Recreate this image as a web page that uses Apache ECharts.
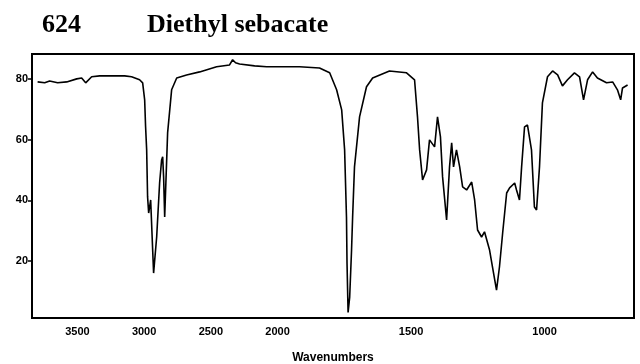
<!DOCTYPE html>
<html>
<head>
<meta charset="utf-8">
<script src="https://cdn.jsdelivr.net/npm/echarts@6/dist/echarts.min.js"></script>
<style>
html,body{margin:0;padding:0;background:#fff;}
#c{width:640px;height:364px;}
</style>
</head>
<body>
<div id="c"></div>
<script>
// Wavenumbers (cm-1) and % transmittance
const wavenumbers = [3798,3745,3708,3648,3580,3505,3468,3438,3393,3333,3221,3146,3094,3034,3011,2996,2989,2981,2974,2966,2951,2936,2929,2906,2884,2869,2861,2854,2846,2824,2794,2756,2682,2584,2457,2360,2337,2315,2285,2172,2082,1918,1843,1805,1779,1760,1749,1742,1740,1736,1730,1723,1719,1712,1693,1667,1644,1581,1517,1487,1476,1468,1457,1442,1431,1412,1401,1390,1382,1367,1356,1348,1341,1330,1318,1307,1292,1273,1262,1251,1236,1225,1206,1195,1180,1169,1157,1142,1131,1112,1105,1094,1086,1075,1064,1049,1038,1030,1019,1008,989,970,951,933,914,888,869,854,839,820,802,768,745,727,715,708,689];
const transmittance = [79.0,78.7,79.3,78.7,79.0,80.0,80.3,78.7,80.7,81.0,81.0,81.0,80.7,79.7,78.7,73.1,64.2,56.6,41.1,35.8,40.1,23.6,16.0,27.9,45.7,53.3,54.3,47.7,34.5,62.2,76.4,80.3,81.3,82.3,84.0,84.6,86.3,85.3,84.9,84.3,84.0,84.0,83.6,82.0,76.4,69.8,56.6,34.5,19.3,3.0,8.1,23.6,34.5,51.0,67.5,77.4,80.3,82.6,82.0,79.7,67.5,56.6,46.7,50.0,59.9,57.6,67.5,60.9,47.7,33.5,51.0,58.9,51.0,56.6,51.0,44.4,43.4,46.0,40.1,30.2,27.9,29.6,23.6,18.0,10.4,18.0,29.2,42.4,44.1,45.7,43.4,40.1,51.0,64.2,64.8,56.6,37.8,36.8,51.0,72.1,80.7,82.6,81.3,77.7,79.7,82.0,80.7,73.1,79.7,82.3,80.3,78.7,79.0,76.4,73.1,77.0,78.0];
const xTickLabels = [3500,3000,2500,2000,1500,1000];
const yTickLabels = [20,40,60,80];
const WN_MAX = 3840, WN_MIN = 665;
const Y_MIN = 1.2, Y_MAX = 88.2;

// chart scale is halved above 2000 cm-1
function toU(wn){ return wn > 2000 ? 2000 + (wn - 2000) / 2 : wn; }
function fromU(u){ return u > 2000 ? 2000 + 2 * (u - 2000) : u; }

const chart = echarts.init(document.getElementById('c'), null, {renderer:'canvas'});
const lblFont = {color:'#000', fontFamily:'Liberation Sans, Arial, sans-serif', fontWeight:'bold', fontSize:11};
const serif = {fontFamily:'Liberation Serif, Times New Roman, serif', fontWeight:'bold', fontSize:26, color:'#000'};
chart.setOption({
  animation:false,
  backgroundColor:'#fff',
  title:[
    {text:'624', left:42, top:12, padding:0, textStyle:serif},
    {text:'Diethyl sebacate', left:147, top:12, padding:0, textStyle:serif}
  ],
  grid:{left:32, right:6, top:54, bottom:46, show:true, borderColor:'#000', borderWidth:2,
        backgroundColor:'transparent', outerBoundsMode:'none', containLabel:false},
  xAxis:{
    type:'value', inverse:true,
    min:toU(WN_MIN), max:toU(WN_MAX),
    name:'Wavenumbers', nameLocation:'middle', nameGap:34,
    nameTextStyle:Object.assign({}, lblFont, {fontSize:12}),
    axisLine:{show:false}, axisTick:{show:false}, splitLine:{show:false},
    axisLabel:Object.assign({}, lblFont, {
      customValues: xTickLabels.map(toU), margin:8,
      formatter: v => String(Math.round(fromU(v) / 100) * 100)
    })
  },
  yAxis:{
    type:'value', min:Y_MIN, max:Y_MAX,
    axisLine:{show:false}, splitLine:{show:false},
    axisTick:{show:true, inside:false, length:4, customValues:yTickLabels, lineStyle:{color:'#000', width:1.5}},
    axisLabel:Object.assign({}, lblFont, {customValues:yTickLabels, margin:4})
  },
  series:[{
    type:'line', symbol:'none', smooth:false,
    lineStyle:{color:'#000', width:1.6},
    data: wavenumbers.map((w, i) => [toU(w), transmittance[i]])
  }]
});
</script>
</body>
</html>
